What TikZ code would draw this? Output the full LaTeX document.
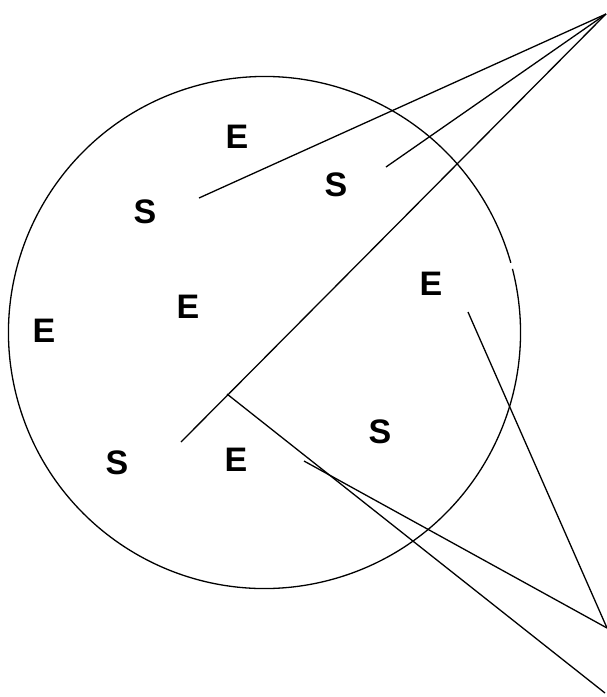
\documentclass[tikz,border=0pt]{standalone}
\usepackage{fontspec}
\setmainfont{Liberation Sans}
\begin{document}
\begin{tikzpicture}[x=1pt,y=-1pt,
  lbl/.style={font=\fontsize{34}{36}\selectfont\bfseries, inner sep=0pt, anchor=center},
  ln/.style={line width=1.3pt, black}]
\useasboundingbox (0,0) rectangle (607,697);
% circle with small gap
\draw[ln] (264.5,332.5) ++(15.8:256 and -256) arc[start angle=15.8, end angle=374.4, x radius=256, y radius=-256];
% labels
\node[lbl] (e1) at (237,137) {E};
\node[lbl] (s1) at (145,212) {S};
\node[lbl] (s2) at (336,185) {S};
\node[lbl] (e2) at (188,307) {E};
\node[lbl] (e3) at (431,284) {E};
\node[lbl] (e4) at (44,331) {E};
\node[lbl] (s3) at (117,463) {S};
\node[lbl] (e5) at (236,460) {E};
\node[lbl] (s4) at (380,432) {S};
% connectors
\coordinate (apex) at (606,14);
\coordinate (a1) at (199,198);
\coordinate (a2) at (386,167);
\coordinate (a3) at (181,442);
\coordinate (b0) at (227,394);
\coordinate (b1) at (605,693);
\coordinate (c0) at (304,461);
\coordinate (c1) at (607,628);
\coordinate (d0) at (468,312);
\draw[ln] (apex) -- (a1);
\draw[ln] (apex) -- (a2);
\draw[ln] (apex) -- (a3);
\draw[ln] (b0) -- (b1);
\draw[ln] (c0) -- (c1);
\draw[ln] (d0) -- (c1);
\end{tikzpicture}
\end{document}
